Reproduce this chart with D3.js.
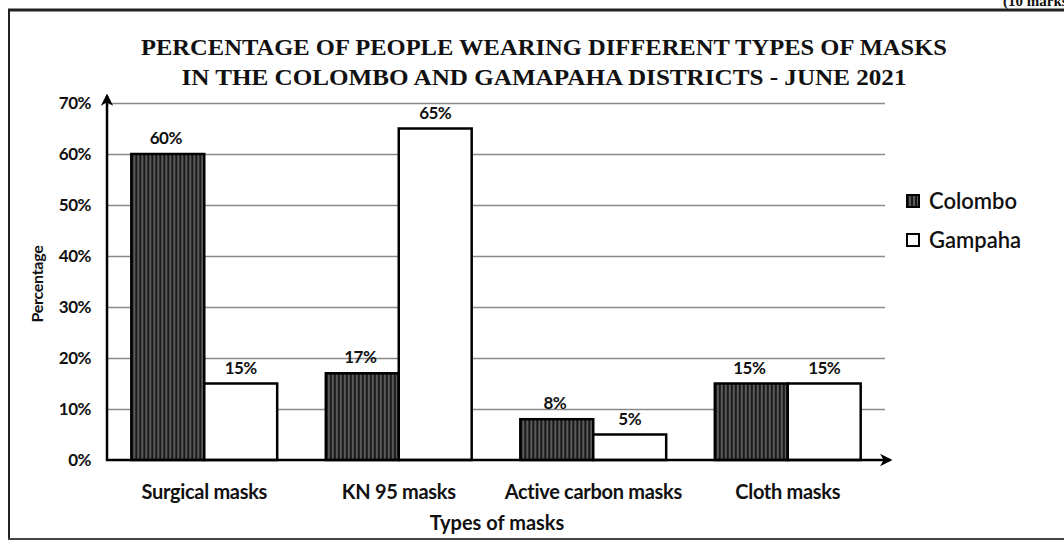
<!DOCTYPE html>
<html><head><meta charset="utf-8">
<script src="https://cdn.jsdelivr.net/npm/d3@7"></script>
<style>
html,body{margin:0;padding:0;background:#fff;}
svg{display:block;}
</style></head>
<body>
<svg id="chart" width="1064" height="544"></svg>
<script>
const categories = ["Surgical masks", "KN 95 masks", "Active carbon masks", "Cloth masks"];
const seriesNames = ["Colombo", "Gampaha"];
const colomboValues = [60, 17, 8, 15];
const gampahaValues = [15, 65, 5, 15];
const valueLabels = [["60%", "17%", "8%", "15%"], ["15%", "65%", "5%", "15%"]];
const yTicks = [0, 10, 20, 30, 40, 50, 60, 70];
const titleLines = ["PERCENTAGE OF PEOPLE WEARING DIFFERENT TYPES OF MASKS", "IN THE COLOMBO AND GAMAPAHA DISTRICTS - JUNE 2021"];

const seriesValues = [colomboValues, gampahaValues];
const svg = d3.select("#chart");
const sans = "Lato, 'Open Sans', sans-serif";

// hatch pattern
const defs = svg.append("defs");
const pat = defs.append("pattern").attr("id","hatch").attr("patternUnits","userSpaceOnUse")
  .attr("width",4).attr("height",10);
pat.append("rect").attr("width",4).attr("height",10).attr("fill","#1a1a1a");
pat.append("rect").attr("x",2.5).attr("width",1).attr("height",10).attr("fill","#9a9a9a");
defs.append("marker").attr("id","arrow").attr("viewBox","0 0 10 10").attr("refX",8).attr("refY",5)
  .attr("markerWidth",5).attr("markerHeight",5).attr("orient","auto-start-reverse").attr("markerUnits","strokeWidth")
  .append("path").attr("d","M0,0 L10,5 L0,10 L3,5 Z").attr("fill","#000");

// frame
svg.append("line").attr("x1",8).attr("x2",1064).attr("y1",10).attr("y2",10).attr("stroke","#222").attr("stroke-width",3);
svg.append("line").attr("x1",9).attr("x2",9).attr("y1",10).attr("y2",540).attr("stroke","#222").attr("stroke-width",2);
svg.append("line").attr("x1",8).attr("x2",1064).attr("y1",539).attr("y2",539).attr("stroke","#444").attr("stroke-width",2);
svg.append("text").attr("x",1003).attr("y",6).attr("font-family","'Liberation Serif', serif").attr("font-weight","bold")
  .attr("font-size",15).attr("fill","#111").text("(10 marks)");

// title
svg.selectAll("text.title").data(titleLines).join("text").attr("class","title")
  .attr("x",544).attr("y",(d,i)=>55+i*30).attr("text-anchor","middle")
  .attr("font-family","'Liberation Serif', serif").attr("font-weight","bold").attr("font-size",23).attr("fill","#111")
  .attr("textLength",(d,i)=>i===0?806:725).attr("lengthAdjust","spacingAndGlyphs")
  .text(d=>d);

const x0 = 107, x1 = 885, yBase = 460, yTop = 103;
const x = d3.scaleBand().domain(categories).range([x0, x1]).paddingInner(0.25).paddingOuter(0.125);
const xs = d3.scaleBand().domain(seriesNames).range([0, x.bandwidth()]);
const y = d3.scaleLinear().domain([0, 70]).range([yBase, yTop]);

// gridlines
svg.append("g").attr("transform",`translate(${x0},0)`)
  .call(d3.axisLeft(y).tickValues(yTicks.filter(t=>t>0)).tickSize(-(x1-x0)).tickFormat(""))
  .call(g=>g.select(".domain").remove())
  .call(g=>g.selectAll("line").attr("stroke","#8a8a8a").attr("stroke-width",1.5));

// bars
const groups = svg.append("g").selectAll("g").data(categories).join("g")
  .attr("transform",d=>`translate(${x(d)},0)`);
const rows = (c,ci)=>seriesNames.map((s,si)=>({s,si,v:seriesValues[si][ci],label:valueLabels[si][ci]}));
groups.selectAll("rect").data(rows).join("rect")
  .attr("x",d=>xs(d.s)).attr("width",xs.bandwidth())
  .attr("y",d=>y(d.v)).attr("height",d=>yBase-y(d.v))
  .attr("fill",d=>d.si===0?"url(#hatch)":"#fff")
  .attr("stroke","#000").attr("stroke-width",2.5);
groups.selectAll("text").data(rows).join("text")
  .attr("x",d=>xs(d.s)+xs.bandwidth()/2-(d.si===0?2:0)).attr("y",d=>y(d.v)-10)
  .attr("text-anchor","middle").attr("font-family",sans).attr("font-weight","bold").attr("font-size",17).attr("fill","#111")
  .attr("letter-spacing","-0.5")
  .text(d=>d.label);

// y axis
const ya = svg.append("g").attr("transform",`translate(${x0},0)`)
  .call(d3.axisLeft(y).tickValues(yTicks).tickSize(0).tickPadding(16).tickFormat(d=>d+"%"));
ya.select(".domain").remove();
ya.selectAll("text").attr("font-family",sans).attr("font-weight","bold").attr("font-size",17).attr("fill","#111")
  .attr("letter-spacing","-0.5");
svg.append("line").attr("x1",x0).attr("x2",x0).attr("y1",yBase+1).attr("y2",96)
  .attr("stroke","#000").attr("stroke-width",2.5).attr("marker-end","url(#arrow)");

// x axis
const xa = svg.append("g").attr("transform",`translate(0,${yBase})`)
  .call(d3.axisBottom(x).tickSize(0).tickPadding(25));
xa.select(".domain").remove();
xa.selectAll("text").attr("font-family",sans).attr("font-weight","bold").attr("font-size",20).attr("fill","#111")
  .attr("letter-spacing","-0.3");
svg.append("line").attr("x1",x0-1).attr("x2",890).attr("y1",yBase).attr("y2",yBase)
  .attr("stroke","#000").attr("stroke-width",2.5).attr("marker-end","url(#arrow)");

// axis titles
svg.append("text").attr("x",497).attr("y",530).attr("text-anchor","middle")
  .attr("font-family",sans).attr("font-weight","bold").attr("font-size",20).attr("fill","#111").text("Types of masks");
svg.append("text").attr("transform","translate(43,284) rotate(-90)").attr("text-anchor","middle")
  .attr("font-family",sans).attr("font-weight","bold").attr("font-size",16).attr("fill","#111")
  .attr("letter-spacing","-0.3").text("Percentage");

// legend
const leg = svg.append("g").selectAll("g").data(seriesNames).join("g")
  .attr("transform",(d,i)=>`translate(907,${195+i*39})`);
leg.append("rect").attr("width",12).attr("height",12)
  .attr("fill",(d,i)=>i===0?"url(#hatch)":"#fff").attr("stroke","#000").attr("stroke-width",2);
leg.append("text").attr("x",22).attr("y",14).attr("font-family",sans).attr("font-size",22).attr("fill","#111")
  .attr("font-weight","600").text(d=>d);
</script>
</body></html>
